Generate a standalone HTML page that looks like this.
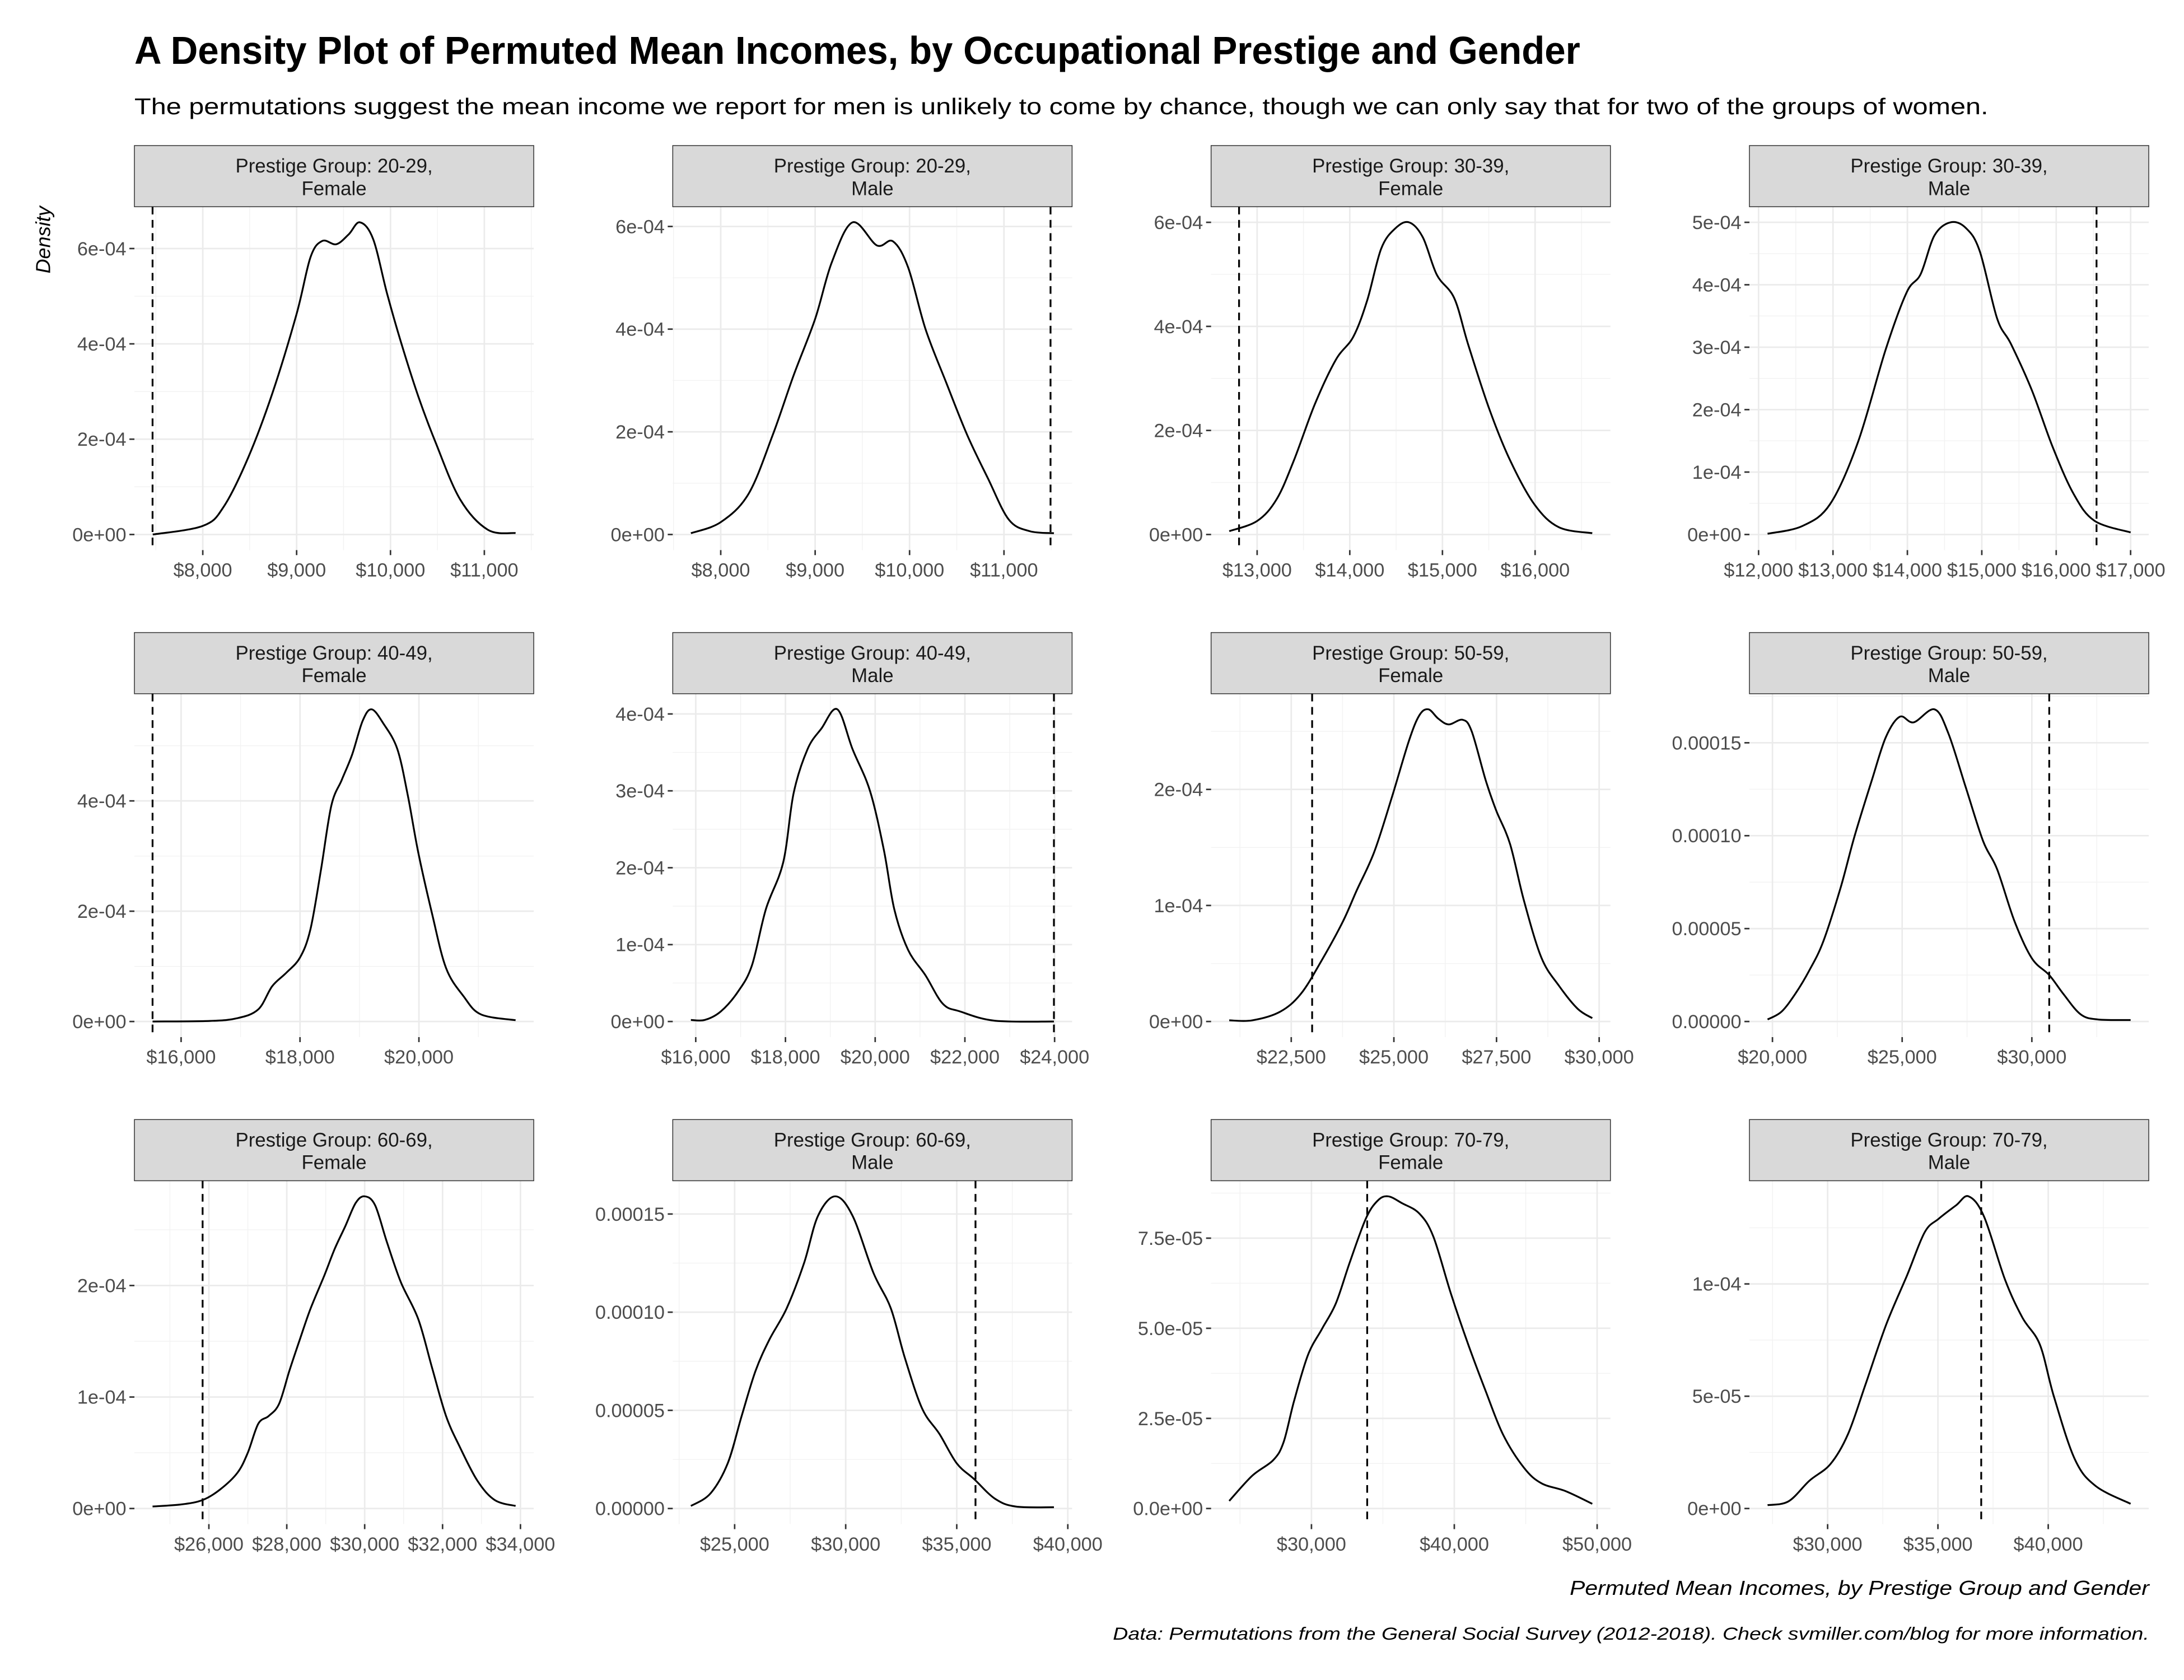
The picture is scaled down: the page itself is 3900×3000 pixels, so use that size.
<!DOCTYPE html>
<html><head><meta charset="utf-8"><style>
html,body{margin:0;padding:0;background:#fff;}
svg{display:block;}
text{font-family:"Liberation Sans",sans-serif;}
</style></head><body>
<svg id="chart" width="3900" height="3000" viewBox="0 0 1568 1206" preserveAspectRatio="none" xmlns="http://www.w3.org/2000/svg">
<rect x="0" y="0" width="1568" height="1206" fill="#ffffff"/>
<text x="96.5" y="45.8" font-size="28" font-weight="bold" fill="#000" textLength="1038" lengthAdjust="spacingAndGlyphs">A Density Plot of Permuted Mean Incomes, by Occupational Prestige and Gender</text>
<text x="96.5" y="82" font-size="16.5" fill="#000" textLength="1331" lengthAdjust="spacingAndGlyphs">The permutations suggest the mean income we report for men is unlikely to come by chance, though we can only say that for two of the groups of women.</text>
<text transform="translate(36,148) rotate(-90)" text-anchor="end" font-size="14.5" font-style="italic" fill="#000">Density</text>
<text x="1543" y="1145" text-anchor="end" font-size="14.5" font-style="italic" fill="#000" textLength="416" lengthAdjust="spacingAndGlyphs">Permuted Mean Incomes, by Prestige Group and Gender</text>
<text x="1543" y="1177" text-anchor="end" font-size="12.5" font-style="italic" fill="#000" textLength="744" lengthAdjust="spacingAndGlyphs">Data: Permutations from the General Social Survey (2012-2018). Check svmiller.com/blog for more information.</text>
<g id="panels"></g>
</svg>
<script>
// ---- data ----
const panelNames = ["Prestige Group: 20-29,|Female","Prestige Group: 20-29,|Male","Prestige Group: 30-39,|Female","Prestige Group: 30-39,|Male","Prestige Group: 40-49,|Female","Prestige Group: 40-49,|Male","Prestige Group: 50-59,|Female","Prestige Group: 50-59,|Male","Prestige Group: 60-69,|Female","Prestige Group: 60-69,|Male","Prestige Group: 70-79,|Female","Prestige Group: 70-79,|Male"];
const observedMeans = [7465, 11493, 12805, 16542, 15520, 23985, 23009, 30670, 25839, 35844, 33902, 36962];
const incomeX = [
 [7467,8000,8222,8481,8741,9000,9148,9274,9422,9556,9674,9815,9963,10111,10296,10481,10741,11037,11333],
 [7684,8000,8294,8551,8772,9000,9176,9397,9654,9824,9985,10169,10390,10610,10831,11051,11272,11529],
 [12699,13000,13211,13398,13624,13850,14038,14188,14338,14489,14639,14789,14940,15128,15278,15504,15729,15992,16256,16617],
 [12121,12589,12963,13336,13710,13991,14178,14364,14579,14785,14972,15206,15393,15673,15953,16234,16514,17000],
 [15520,16480,16947,17298,17532,17766,18000,18175,18351,18526,18702,18877,19053,19205,19404,19637,19813,19988,20222,20456,20749,21041,21626],
 [15892,16201,16557,16944,17253,17563,17950,18182,18491,18801,19157,19497,19884,20194,20426,20735,21122,21509,21896,22669,23985],
 [20990,21550,22228,22738,23247,23756,24095,24520,24949,25368,25623,25843,26081,26336,26675,26896,27235,27490,27829,28169,28593,29017,29475,29832],
 [19812,20349,20885,21421,21957,22627,23164,23834,24370,24906,25442,26247,26783,27453,28123,28660,29330,30000,30670,31206,31877,32547,33807],
 [24554,25304,25839,26286,26732,26999,27268,27536,27804,28071,28339,28607,28964,29232,29500,29768,30000,30268,30571,30929,31375,31732,32089,32446,32893,33339,33875],
 [23031,23906,24688,25313,25938,26563,27344,28125,28750,29531,30313,31250,32031,32656,33438,34219,35000,35781,36719,37656,39375],
 [24244,25854,27317,28049,28780,29756,30732,31707,32683,33805,34634,35366,36341,37561,38537,39756,40976,42195,43415,44878,46098,47805,49659],
 [27278,28228,29177,30127,30918,31709,32658,33608,34399,35032,35823,36392,37089,38038,38829,39620,40253,41203,42152,43734]
];
const densityY = [
 [0,1.8e-5,5.8e-5,1.60e-4,2.96e-4,4.63e-4,5.82e-4,6.16e-4,6.09e-4,6.30e-4,6.55e-4,6.2e-4,5.06e-4,4.04e-4,2.90e-4,1.93e-4,7.4e-5,1.0e-5,3e-6],
 [2.5e-6,2.4e-5,7.9e-5,1.94e-4,3.10e-4,4.2e-4,5.30e-4,6.08e-4,5.63e-4,5.71e-4,5.2e-4,4.0e-4,2.95e-4,1.94e-4,1.09e-4,2.9e-5,6.5e-6,2.5e-6],
 [6.4e-6,2.6e-5,6.8e-5,1.43e-4,2.51e-4,3.36e-4,3.80e-4,4.5e-4,5.49e-4,5.88e-4,6.0e-4,5.71e-4,4.99e-4,4.54e-4,3.65e-4,2.42e-4,1.43e-4,5.8e-5,1.4e-5,2.5e-6],
 [1.2e-6,1.36e-5,4.9e-5,1.48e-4,2.97e-4,3.88e-4,4.17e-4,4.79e-4,5.0e-4,4.91e-4,4.54e-4,3.46e-4,3.05e-4,2.31e-4,1.40e-4,6.5e-5,2.2e-5,3.3e-6],
 [0,1e-6,6e-6,2.2e-5,6.4e-5,8.8e-5,1.16e-4,1.67e-4,2.74e-4,3.91e-4,4.38e-4,4.84e-4,5.45e-4,5.66e-4,5.40e-4,4.94e-4,4.10e-4,3.07e-4,1.95e-4,9.7e-5,4.6e-5,1.3e-5,2.3e-6],
 [2e-6,2e-6,1.3e-5,3.9e-5,7.3e-5,1.46e-4,2.07e-4,2.97e-4,3.54e-4,3.81e-4,4.06e-4,3.54e-4,3.0e-4,2.23e-4,1.46e-4,9.3e-5,6.0e-5,2.3e-5,1.3e-5,1e-6,0],
 [1e-6,1e-6,8.4e-6,2.4e-5,5.3e-5,8.6e-5,1.13e-4,1.46e-4,1.93e-4,2.42e-4,2.64e-4,2.69e-4,2.61e-4,2.56e-4,2.60e-4,2.50e-4,2.08e-4,1.82e-4,1.53e-4,1.04e-4,5.5e-5,3.1e-5,1.1e-5,2.9e-6],
 [1.1e-6,5.3e-6,1.5e-5,2.75e-5,4.3e-5,7.2e-5,9.97e-5,1.30e-4,1.53e-4,1.64e-4,1.61e-4,1.68e-4,1.55e-4,1.26e-4,9.7e-5,8.2e-5,5.4e-5,3.4e-5,2.5e-5,1.5e-5,3.9e-6,1.1e-6,8e-7],
 [1.8e-6,3.7e-6,7.6e-6,1.7e-5,3.2e-5,5.0e-5,7.6e-5,8.3e-5,9.4e-5,1.24e-4,1.52e-4,1.79e-4,2.09e-4,2.33e-4,2.53e-4,2.74e-4,2.80e-4,2.72e-4,2.39e-4,2.03e-4,1.70e-4,1.26e-4,8.3e-5,5.5e-5,2.5e-5,7.6e-6,2.3e-6],
 [1.3e-6,7.6e-6,2.3e-5,4.7e-5,7.0e-5,8.6e-5,1.02e-4,1.25e-4,1.49e-4,1.59e-4,1.49e-4,1.20e-4,1.02e-4,7.7e-5,5.1e-5,3.8e-5,2.3e-5,1.5e-5,5e-6,1e-6,6.5e-7],
 [2.1e-6,9.1e-6,1.34e-5,1.84e-5,2.98e-5,4.26e-5,4.98e-5,5.69e-5,6.83e-5,8.04e-5,8.54e-5,8.66e-5,8.47e-5,8.18e-5,7.54e-5,5.97e-5,4.55e-5,3.26e-5,2.05e-5,1.13e-5,7.0e-6,4.8e-6,1.3e-6],
 [1.5e-6,3.2e-6,1.24e-5,1.98e-5,3.3e-5,5.5e-5,8.2e-5,1.04e-4,1.23e-4,1.29e-4,1.35e-4,1.39e-4,1.30e-4,1.02e-4,8.5e-5,7.3e-5,5.0e-5,2.2e-5,1.0e-5,2.1e-6]
];
const xTickValues = [
 [8000,9000,10000,11000],[8000,9000,10000,11000],[13000,14000,15000,16000],[12000,13000,14000,15000,16000,17000],
 [16000,18000,20000],[16000,18000,20000,22000,24000],[22500,25000,27500,30000],[20000,25000,30000],
 [26000,28000,30000,32000,34000],[25000,30000,35000,40000],[30000,40000,50000],[30000,35000,40000]
];
const yTickValues = [
 [0,2e-4,4e-4,6e-4],[0,2e-4,4e-4,6e-4],[0,2e-4,4e-4,6e-4],[0,1e-4,2e-4,3e-4,4e-4,5e-4],
 [0,2e-4,4e-4],[0,1e-4,2e-4,3e-4,4e-4],[0,1e-4,2e-4],[0,5e-5,1e-4,1.5e-4],
 [0,1e-4,2e-4],[0,5e-5,1e-4,1.5e-4],[0,2.5e-5,5e-5,7.5e-5],[0,5e-5,1e-4]
];
const yTickLabels = [
 ["0e+00","2e-04","4e-04","6e-04"],["0e+00","2e-04","4e-04","6e-04"],["0e+00","2e-04","4e-04","6e-04"],["0e+00","1e-04","2e-04","3e-04","4e-04","5e-04"],
 ["0e+00","2e-04","4e-04"],["0e+00","1e-04","2e-04","3e-04","4e-04"],["0e+00","1e-04","2e-04"],["0.00000","0.00005","0.00010","0.00015"],
 ["0e+00","1e-04","2e-04"],["0.00000","0.00005","0.00010","0.00015"],["0.0e+00","2.5e-05","5.0e-05","7.5e-05"],["0e+00","5e-05","1e-04"]
];
// ---- layout ----
const NS = "http://www.w3.org/2000/svg";
const root = document.getElementById('panels');
function mk(tag, attrs, parent){ const e=document.createElementNS(NS,tag); for(const k in attrs) e.setAttribute(k,attrs[k]); (parent||root).appendChild(e); return e; }
function fmtDollar(v){ return "$" + Math.round(v).toString().replace(/\B(?=(\d{3})+(?!\d))/g, ","); }
function smoothPath(pts){
  let d = "M"+pts[0][0].toFixed(2)+","+pts[0][1].toFixed(2);
  for(let i=0;i<pts.length-1;i++){
    const p0=pts[Math.max(0,i-1)], p1=pts[i], p2=pts[i+1], p3=pts[Math.min(pts.length-1,i+2)];
    const c1=[p1[0]+(p2[0]-p0[0])/6, p1[1]+(p2[1]-p0[1])/6];
    const c2=[p2[0]-(p3[0]-p1[0])/6, p2[1]-(p3[1]-p1[1])/6];
    d += " C"+c1[0].toFixed(2)+","+c1[1].toFixed(2)+" "+c2[0].toFixed(2)+","+c2[1].toFixed(2)+" "+p2[0].toFixed(2)+","+p2[1].toFixed(2);
  }
  return d;
}
const COL0=96.5, COLSTEP=386.5, PW=286.7, ROW0=104.5, ROWSTEP=349.6, SH=43.9, PH=246.5;
for(let i=0;i<12;i++){
  const c=i%4, r=Math.floor(i/4);
  const L=COL0+c*COLSTEP, T=ROW0+r*ROWSTEP, PT=T+SH, PB=PT+PH;
  const g = mk('g',{});
  
  
  const xs=incomeX[i], ys=densityY[i];
  const xmin0=Math.min(...xs, observedMeans[i]), xmax0=Math.max(...xs, observedMeans[i]);
  const xe=(xmax0-xmin0)*0.05, xlo=xmin0-xe, xhi=xmax0+xe;
  const M=Math.max(...ys), ylo=-0.05*M, yhi=1.05*M;
  const sx=v=>L+(v-xlo)/(xhi-xlo)*PW;
  const sy=v=>PB-(v-ylo)/(yhi-ylo)*PH;
  const xt=xTickValues[i], dx=xt[1]-xt[0];
  for(let v=xt[0]-dx/2; v<=xhi; v+=dx){ if(v<xlo) continue; const gl=mk('line',{x1:sx(v),x2:sx(v),y1:PT,y2:PB,stroke:'#f2f2f2','stroke-width':0.55},g);   }
  const yt=yTickValues[i], dy=yt[1]-yt[0];
  for(let v=yt[0]-dy/2; v<=yhi; v+=dy){ if(v<ylo) continue; const gl=mk('line',{x1:L,x2:L+PW,y1:sy(v),y2:sy(v),stroke:'#f2f2f2','stroke-width':0.55},g);   }
  xt.forEach(v=>{
    const gl=mk('line',{x1:sx(v),x2:sx(v),y1:PT,y2:PB,stroke:'#ebebeb','stroke-width':1.1},g);
     
    const tk=mk('line',{x1:sx(v),x2:sx(v),y1:PB,y2:PB+3.6,stroke:'#333','stroke-width':1.1},g);
     
    const tl=mk('text',{x:sx(v),y:PB+19,'text-anchor':'middle','font-size':13.8,fill:'#4d4d4d'},g);
    tl.textContent=fmtDollar(v);
     
  });
  yt.forEach((v,k)=>{
    const gl=mk('line',{x1:L,x2:L+PW,y1:sy(v),y2:sy(v),stroke:'#ebebeb','stroke-width':1.1},g);
     
    const tk=mk('line',{x1:L-3.6,x2:L,y1:sy(v),y2:sy(v),stroke:'#333','stroke-width':1.1},g);
     
    const tl=mk('text',{x:L-5.8,y:sy(v)+4.8,'text-anchor':'end','font-size':13.8,fill:'#4d4d4d'},g);
    tl.textContent=yTickLabels[i][k];
     
  });
  const st=mk('rect',{x:L,y:T,width:PW,height:SH,fill:'#d9d9d9',stroke:'#333333','stroke-width':0.6},g);
   
  const parts=panelNames[i].split('|');
  const s1=mk('text',{x:L+PW/2,y:T+19.4,'text-anchor':'middle','font-size':14,fill:'#1a1a1a'},g);
  s1.textContent=parts[0];
   
  const s2=mk('text',{x:L+PW/2,y:T+35.5,'text-anchor':'middle','font-size':14,fill:'#1a1a1a'},g);
  s2.textContent=parts[1];
   
  const pts=xs.map((x,k)=>[sx(x),sy(ys[k])]);
  const p=mk('path',{d:smoothPath(pts),fill:'none',stroke:'#000','stroke-width':1.3,'stroke-linejoin':'round'},g);
   
  const vl=mk('line',{x1:sx(observedMeans[i]),x2:sx(observedMeans[i]),y1:PT,y2:PB,stroke:'#000','stroke-width':1.3,'stroke-dasharray':'5.5,4'},g);
   
}
</script>
</body></html>
